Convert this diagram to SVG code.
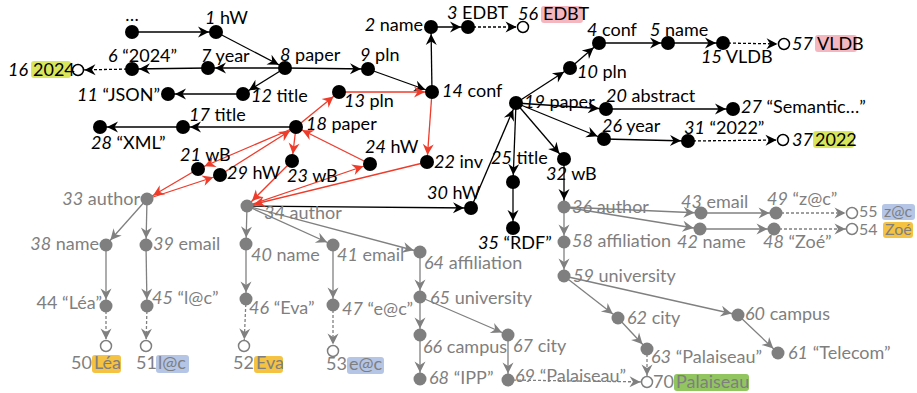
<svg xmlns="http://www.w3.org/2000/svg" width="917" height="393" viewBox="0 0 917 393">
<defs>
<style>
.t{font-family:Lato,"Open Sans","Liberation Sans",sans-serif;font-size:18px;fill:#000}
.s{font-size:16px}
.g{fill:#7f7f7f}
.i{font-style:italic}
.e{fill:none;stroke-width:1.3}
.k{stroke:#000;marker-end:url(#aK)}
.kh{stroke:#000;marker-end:url(#aKh);stroke-dasharray:3 2}
.gr{stroke:#808080;marker-end:url(#aG)}
.gh{stroke:#808080;marker-end:url(#aGh);stroke-dasharray:3 2}
.r{stroke:#ee3b2a;marker-end:url(#aR)}
.nb{fill:#000}
.ng{fill:#7f7f7f}
.hb{fill:#fff;stroke:#000;stroke-width:1.5}
.hg{fill:#fff;stroke:#7f7f7f;stroke-width:1.5}
.yl{fill:#d9e65c}
.pk{fill:#f4b7c0}
.or{fill:#f5c242}
.bl{fill:#b4c5e6}
.gn{fill:#92c560}
</style>
<marker id="aK" viewBox="-20 -7 20 14" markerWidth="20" markerHeight="14" refX="0" refY="0" orient="auto" markerUnits="userSpaceOnUse" overflow="visible"><path d="M-7,0 L-18,-5.5 L-14.5,0 L-18,5.5 z" fill="#000"/></marker>
<marker id="aKh" viewBox="-20 -7 20 14" markerWidth="20" markerHeight="14" refX="0" refY="0" orient="auto" markerUnits="userSpaceOnUse" overflow="visible"><path d="M-6.5,0 L-17.5,-5.5 L-14,0 L-17.5,5.5 z" fill="#000"/></marker>
<marker id="aG" viewBox="-20 -7 20 14" markerWidth="20" markerHeight="14" refX="0" refY="0" orient="auto" markerUnits="userSpaceOnUse" overflow="visible"><path d="M-6.5,0 L-17.5,-5.5 L-14,0 L-17.5,5.5 z" fill="#808080"/></marker>
<marker id="aGh" viewBox="-20 -7 20 14" markerWidth="20" markerHeight="14" refX="0" refY="0" orient="auto" markerUnits="userSpaceOnUse" overflow="visible"><path d="M-6.5,0 L-17.5,-5.5 L-14,0 L-17.5,5.5 z" fill="#808080"/></marker>
<marker id="aR" viewBox="-20 -7 20 14" markerWidth="20" markerHeight="14" refX="0" refY="0" orient="auto" markerUnits="userSpaceOnUse" overflow="visible"><path d="M-7,0 L-18,-5.5 L-14.5,0 L-18,5.5 z" fill="#ee3b2a"/></marker>
</defs>

<!-- connectors -->
<g id="edges" class="e">
<!-- black edges -->
<line class="k" x1="132" y1="32" x2="216" y2="32"/>
<line class="k" x1="216" y1="32" x2="285" y2="68"/>
<line class="k" x1="285" y1="68" x2="208" y2="68"/>
<line class="k" x1="208" y1="68" x2="132" y2="69"/>
<line class="kh" x1="132" y1="69" x2="78" y2="70"/>
<line class="k" x1="285" y1="68" x2="243" y2="94"/>
<line class="k" x1="243" y1="94" x2="168" y2="94"/>
<line class="k" x1="285" y1="68" x2="368" y2="69"/>
<line class="k" x1="368" y1="69" x2="432" y2="92"/>
<line class="k" x1="432" y1="92" x2="431" y2="27"/>
<line class="k" x1="431" y1="27" x2="468" y2="27"/>
<line class="kh" x1="468" y1="27" x2="523" y2="27"/>
<line class="k" x1="599" y1="43" x2="668" y2="43"/>
<line class="k" x1="668" y1="43" x2="723" y2="43"/>
<line class="kh" x1="723" y1="43" x2="784" y2="44"/>
<line class="k" x1="516" y1="103" x2="570" y2="68"/>
<line class="k" x1="570" y1="68" x2="599" y2="43"/>
<line class="k" x1="516" y1="103" x2="606" y2="109"/>
<line class="k" x1="606" y1="109" x2="733" y2="109"/>
<line class="k" x1="516" y1="103" x2="604" y2="139"/>
<line class="k" x1="604" y1="139" x2="688" y2="141"/>
<line class="kh" x1="688" y1="141" x2="783" y2="140"/>
<line class="k" x1="516" y1="103" x2="513" y2="182"/>
<line class="k" x1="513" y1="182" x2="513" y2="228"/>
<line class="k" x1="516" y1="103" x2="564" y2="159"/>
<line class="k" x1="564" y1="159" x2="564" y2="207"/>
<line class="k" x1="471" y1="208" x2="516" y2="103"/>
<line class="k" x1="247" y1="206" x2="471" y2="208"/>
<line class="k" x1="296" y1="127" x2="183" y2="127"/>
<line class="k" x1="183" y1="127" x2="100" y2="127"/>
<!-- red edges -->
<line class="r" x1="296" y1="127" x2="339" y2="92"/>
<line class="r" x1="339" y1="92" x2="432" y2="92"/>
<line class="r" x1="432" y1="92" x2="427" y2="162"/>
<line class="r" x1="427" y1="162" x2="247" y2="206"/>
<line class="r" x1="247" y1="206" x2="370" y2="164"/>
<line class="r" x1="370" y1="164" x2="296" y2="127"/>
<line class="r" x1="296" y1="127" x2="292" y2="161"/>
<line class="r" x1="292" y1="161" x2="247" y2="206"/>
<line class="r" x1="296" y1="127" x2="198" y2="169"/>
<line class="r" x1="198" y1="169" x2="147" y2="199"/>
<line class="r" x1="147" y1="199" x2="220" y2="175"/>
<line class="r" x1="220" y1="175" x2="296" y2="127"/>
<!-- gray edges -->
<line class="gr" x1="147" y1="199" x2="106" y2="245"/>
<line class="gr" x1="147" y1="199" x2="146" y2="245"/>
<line class="gr" x1="106" y1="245" x2="106" y2="306"/>
<line class="gr" x1="146" y1="245" x2="147" y2="306"/>
<line class="gh" x1="106" y1="306" x2="106" y2="346"/>
<line class="gh" x1="147" y1="306" x2="146" y2="346"/>
<line class="gr" x1="247" y1="206" x2="246" y2="244"/>
<line class="gr" x1="247" y1="206" x2="333" y2="245"/>
<line class="gr" x1="247" y1="206" x2="420" y2="252"/>
<line class="gr" x1="246" y1="244" x2="246" y2="299"/>
<line class="gr" x1="333" y1="245" x2="333" y2="305"/>
<line class="gh" x1="246" y1="299" x2="244" y2="346"/>
<line class="gh" x1="333" y1="305" x2="333" y2="351"/>
<line class="gr" x1="420" y1="252" x2="420" y2="297"/>
<line class="gr" x1="420" y1="297" x2="420" y2="335"/>
<line class="gr" x1="420" y1="297" x2="508" y2="335"/>
<line class="gr" x1="420" y1="335" x2="420" y2="379"/>
<line class="gr" x1="508" y1="335" x2="508" y2="380"/>
<line class="gh" x1="508" y1="380" x2="647" y2="382"/>
<line class="gr" x1="564" y1="207" x2="701" y2="213"/>
<line class="gr" x1="564" y1="207" x2="700" y2="229"/>
<line class="gr" x1="701" y1="213" x2="776" y2="213"/>
<line class="gr" x1="700" y1="229" x2="774" y2="229"/>
<line class="gh" x1="776" y1="213" x2="852" y2="213"/>
<line class="gh" x1="774" y1="229" x2="852" y2="229"/>
<line class="gr" x1="564" y1="207" x2="564" y2="242"/>
<line class="gr" x1="564" y1="242" x2="564" y2="276"/>
<line class="gr" x1="564" y1="276" x2="618" y2="318"/>
<line class="gr" x1="564" y1="276" x2="738" y2="315"/>
<line class="gr" x1="618" y1="318" x2="647" y2="349"/>
<line class="gr" x1="738" y1="315" x2="778" y2="353"/>
<line class="gh" x1="647" y1="349" x2="647" y2="382"/>
</g>

<!-- black nodes -->
<g id="n0"><circle class="nb" cx="132" cy="32" r="7"/><text class="t" x="132" y="21" text-anchor="middle">…</text></g>
<g id="n1"><circle class="nb" cx="216" cy="32" r="7"/><text class="t" x="205" y="24"><tspan class="i">1</tspan> hW</text></g>
<g id="n8"><circle class="nb" cx="285" cy="68" r="7"/><text class="t" x="280" y="61"><tspan class="i">8</tspan> paper</text></g>
<g id="n7"><circle class="nb" cx="208" cy="68" r="7"/><text class="t" x="201" y="62"><tspan class="i">7</tspan> year</text></g>
<g id="n6"><circle class="nb" cx="132" cy="69" r="7"/><text class="t" x="108" y="62"><tspan class="i">6</tspan> “2024”</text></g>
<g id="n16"><circle class="hb" cx="78" cy="70" r="5.5"/><text class="t i" x="8" y="76">16</text><rect class="yl" x="31" y="61" width="40" height="17" rx="3"/><text class="t" x="33" y="76">2024</text></g>
<g id="n12"><circle class="nb" cx="243" cy="94" r="7"/><text class="t" x="251" y="102"><tspan class="i">12</tspan> title</text></g>
<g id="n11"><circle class="nb" cx="168" cy="94" r="7"/><text class="t" x="160" y="101" text-anchor="end"><tspan class="i">11</tspan> “JSON”</text></g>
<g id="n9"><circle class="nb" cx="368" cy="69" r="7"/><text class="t" x="360" y="61"><tspan class="i">9</tspan> pln</text></g>
<g id="n14"><circle class="nb" cx="432" cy="92" r="7"/><text class="t" x="442" y="97"><tspan class="i">14</tspan> conf</text></g>
<g id="n13"><circle class="nb" cx="339" cy="92" r="7"/><text class="t" x="344" y="107"><tspan class="i">13</tspan> pln</text></g>
<g id="n2"><circle class="nb" cx="431" cy="27" r="7"/><text class="t" x="423" y="31" text-anchor="end"><tspan class="i">2</tspan> name</text></g>
<g id="n3"><circle class="nb" cx="468" cy="27" r="7"/><text class="t" x="447" y="19"><tspan class="i">3</tspan> EDBT</text></g>
<g id="n56"><circle class="hb" cx="523" cy="27" r="5.5"/><text class="t i" x="518" y="20">56</text><rect class="pk" x="541" y="6" width="42" height="17" rx="3"/><text class="t" x="543" y="20">EDBT</text></g>
<g id="n4"><circle class="nb" cx="599" cy="43" r="7"/><text class="t" x="587" y="36"><tspan class="i">4</tspan> conf</text></g>
<g id="n5"><circle class="nb" cx="668" cy="43" r="7"/><text class="t" x="650" y="36"><tspan class="i">5</tspan> name</text></g>
<g id="n15"><circle class="nb" cx="723" cy="43" r="7"/><text class="t" x="701" y="63"><tspan class="i">15</tspan> VLDB</text></g>
<g id="n57"><circle class="hb" cx="784" cy="44" r="5.5"/><text class="t i" x="792" y="50">57</text><rect class="pk" x="815" y="35" width="42" height="17" rx="3"/><text class="t" x="817" y="50">VLDB</text></g>
<g id="n10"><circle class="nb" cx="570" cy="68" r="7"/><text class="t" x="577" y="78"><tspan class="i">10</tspan> pln</text></g>
<g id="n19"><circle class="nb" cx="516" cy="103" r="7"/><text class="t" x="524" y="108"><tspan class="i">19</tspan> paper</text></g>
<g id="n20"><circle class="nb" cx="606" cy="109" r="7"/><text class="t" x="606" y="102"><tspan class="i">20</tspan> abstract</text></g>
<g id="n27"><circle class="nb" cx="733" cy="109" r="7"/><text class="t" x="741" y="113"><tspan class="i">27</tspan> “Semantic…”</text></g>
<g id="n26"><circle class="nb" cx="604" cy="139" r="7"/><text class="t" x="602" y="132"><tspan class="i">26</tspan> year</text></g>
<g id="n31"><circle class="nb" cx="688" cy="141" r="7"/><text class="t" x="684" y="134"><tspan class="i">31</tspan> “2022”</text></g>
<g id="n37"><circle class="hb" cx="783" cy="140" r="5.5"/><text class="t i" x="792" y="146">37</text><rect class="yl" x="813" y="131" width="41" height="17" rx="3"/><text class="t" x="815" y="146">2022</text></g>
<g id="n25"><circle class="nb" cx="513" cy="182" r="7"/><text class="t" x="491" y="164"><tspan class="i">25</tspan> title</text></g>
<g id="n35"><circle class="nb" cx="513" cy="228" r="7"/><text class="t" x="478" y="249"><tspan class="i">35</tspan> “RDF”</text></g>
<g id="n32"><circle class="nb" cx="564" cy="159" r="7"/><text class="t" x="546" y="180"><tspan class="i">32</tspan> wB</text></g>
<g id="n30"><circle class="nb" cx="471" cy="208" r="7"/><text class="t" x="427" y="199"><tspan class="i">30</tspan> hW</text></g>
<g id="n22"><circle class="nb" cx="427" cy="162" r="7"/><text class="t" x="434" y="168"><tspan class="i">22</tspan> inv</text></g>
<g id="n24"><circle class="nb" cx="370" cy="164" r="7"/><text class="t" x="365" y="153"><tspan class="i">24</tspan> hW</text></g>
<g id="n18"><circle class="nb" cx="296" cy="127" r="7"/><text class="t" x="306" y="130"><tspan class="i">18</tspan> paper</text></g>
<g id="n17"><circle class="nb" cx="183" cy="127" r="7"/><text class="t" x="189" y="121"><tspan class="i">17</tspan> title</text></g>
<g id="n28"><circle class="nb" cx="100" cy="127" r="7"/><text class="t" x="91" y="149"><tspan class="i">28</tspan> “XML”</text></g>
<g id="n21"><circle class="nb" cx="198" cy="169" r="7"/><text class="t" x="180" y="161"><tspan class="i">21</tspan> wB</text></g>
<g id="n29"><circle class="nb" cx="220" cy="175" r="7"/><text class="t" x="227" y="179"><tspan class="i">29</tspan> hW</text></g>
<g id="n23"><circle class="nb" cx="292" cy="161" r="7"/><text class="t" x="287" y="182"><tspan class="i">23</tspan> wB</text></g>

<!-- gray nodes -->
<g id="n33"><circle class="ng" cx="147" cy="199" r="6.5"/><text class="t g" x="140" y="205" text-anchor="end"><tspan class="i">33</tspan> author</text></g>
<g id="n34"><circle class="ng" cx="247" cy="206" r="6.5"/><text class="t g" x="264" y="219"><tspan class="i">34</tspan> author</text></g>
<g id="n38"><circle class="ng" cx="106" cy="245" r="6.5"/><text class="t g" x="99" y="250" text-anchor="end"><tspan class="i">38</tspan> name</text></g>
<g id="n39"><circle class="ng" cx="146" cy="245" r="6.5"/><text class="t g" x="153" y="250"><tspan class="i">39</tspan> email</text></g>
<g id="n44"><circle class="ng" cx="106" cy="306" r="6.5"/><text class="t g" x="102" y="309" text-anchor="end">44 “Léa”</text></g>
<g id="n45"><circle class="ng" cx="147" cy="306" r="6.5"/><text class="t g" x="152" y="304"><tspan class="i">45</tspan> “l@c”</text></g>
<g id="n50"><circle class="hg" cx="106" cy="346" r="5.5"/><text class="t g" x="71" y="369">50</text><rect class="or" x="92" y="355" width="29" height="18" rx="3"/><text class="t g" x="94" y="369">Léa</text></g>
<g id="n51"><circle class="hg" cx="146" cy="346" r="5.5"/><text class="t g" x="136" y="369">51</text><rect class="bl" x="156" y="355" width="33" height="18" rx="3"/><text class="t g" x="158" y="369">l@c</text></g>
<g id="n40"><circle class="ng" cx="246" cy="244" r="6.5"/><text class="t g" x="251" y="261"><tspan class="i">40</tspan> name</text></g>
<g id="n46"><circle class="ng" cx="246" cy="299" r="6.5"/><text class="t g" x="249" y="314"><tspan class="i">46</tspan> “Eva”</text></g>
<g id="n52"><circle class="hg" cx="244" cy="346" r="5.5"/><text class="t g" x="233" y="369">52</text><rect class="or" x="254" y="356" width="29" height="17" rx="3"/><text class="t g" x="256" y="369">Eva</text></g>
<g id="n41"><circle class="ng" cx="333" cy="245" r="6.5"/><text class="t g" x="337" y="261"><tspan class="i">41</tspan> email</text></g>
<g id="n47"><circle class="ng" cx="333" cy="305" r="6.5"/><text class="t g" x="342" y="315"><tspan class="i">47</tspan> “e@c”</text></g>
<g id="n53"><circle class="hg" cx="333" cy="351" r="5.5"/><text class="t g" x="326" y="370">53</text><rect class="bl" x="347" y="357" width="37" height="17" rx="3"/><text class="t g" x="349" y="370">e@c</text></g>
<g id="n64"><circle class="ng" cx="420" cy="252" r="6.5"/><text class="t g" x="424" y="269"><tspan class="i">64</tspan> affiliation</text></g>
<g id="n65"><circle class="ng" cx="420" cy="297" r="6.5"/><text class="t g" x="430" y="304"><tspan class="i">65</tspan> university</text></g>
<g id="n66"><circle class="ng" cx="420" cy="335" r="6.5"/><text class="t g" x="423" y="353"><tspan class="i">66</tspan> campus</text></g>
<g id="n68"><circle class="ng" cx="420" cy="379" r="6.5"/><text class="t g" x="429" y="384"><tspan class="i">68</tspan> “IPP”</text></g>
<g id="n67"><circle class="ng" cx="508" cy="335" r="6.5"/><text class="t g" x="513" y="352"><tspan class="i">67</tspan> city</text></g>
<g id="n69"><circle class="ng" cx="508" cy="380" r="6.5"/><text class="t g" x="515" y="382"><tspan class="i">69</tspan> “Palaiseau”</text></g>
<g id="n70"><circle class="hg" cx="647" cy="382" r="5.5"/><text class="t g" x="653" y="388">70</text><rect class="gn" x="674" y="374" width="75" height="17" rx="3"/><text class="t g" x="676" y="388">Palaiseau</text></g>
<g id="n36"><circle class="ng" cx="564" cy="207" r="6.5"/><text class="t g" x="572" y="213"><tspan class="i">36</tspan> author</text></g>
<g id="n58"><circle class="ng" cx="564" cy="242" r="6.5"/><text class="t g" x="572" y="247"><tspan class="i">58</tspan> affiliation</text></g>
<g id="n59"><circle class="ng" cx="564" cy="276" r="6.5"/><text class="t g" x="573" y="282"><tspan class="i">59</tspan> university</text></g>
<g id="n62"><circle class="ng" cx="618" cy="318" r="6.5"/><text class="t g" x="627" y="324"><tspan class="i">62</tspan> city</text></g>
<g id="n63"><circle class="ng" cx="647" cy="349" r="6.5"/><text class="t g" x="651" y="363"><tspan class="i">63</tspan> “Palaiseau”</text></g>
<g id="n60"><circle class="ng" cx="738" cy="315" r="6.5"/><text class="t g" x="745" y="320"><tspan class="i">60</tspan> campus</text></g>
<g id="n61"><circle class="ng" cx="778" cy="353" r="6.5"/><text class="t g" x="788" y="359"><tspan class="i">61</tspan> “Telecom”</text></g>
<g id="n43"><circle class="ng" cx="701" cy="213" r="6.5"/><text class="t g" x="681" y="208"><tspan class="i">43</tspan> email</text></g>
<g id="n42"><circle class="ng" cx="700" cy="229" r="6.5"/><text class="t g" x="677" y="248"><tspan class="i">42</tspan> name</text></g>
<g id="n49"><circle class="ng" cx="776" cy="213" r="6.5"/><text class="t g" x="767" y="205"><tspan class="i">49</tspan> “z@c”</text></g>
<g id="n48"><circle class="ng" cx="774" cy="229" r="6.5"/><text class="t g" x="763" y="248"><tspan class="i">48</tspan> “Zoé”</text></g>
<g id="n55"><circle class="hg" cx="852" cy="213" r="5.5"/><text class="t g s" x="859" y="217">55</text><rect class="bl" x="882" y="204" width="33" height="16" rx="3"/><text class="t g s" x="884" y="217">z@c</text></g>
<g id="n54"><circle class="hg" cx="852" cy="229" r="5.5"/><text class="t g s" x="859" y="235">54</text><rect class="or" x="883" y="222" width="30" height="16" rx="3"/><text class="t g s" x="885" y="235">Zoé</text></g>
</svg>
